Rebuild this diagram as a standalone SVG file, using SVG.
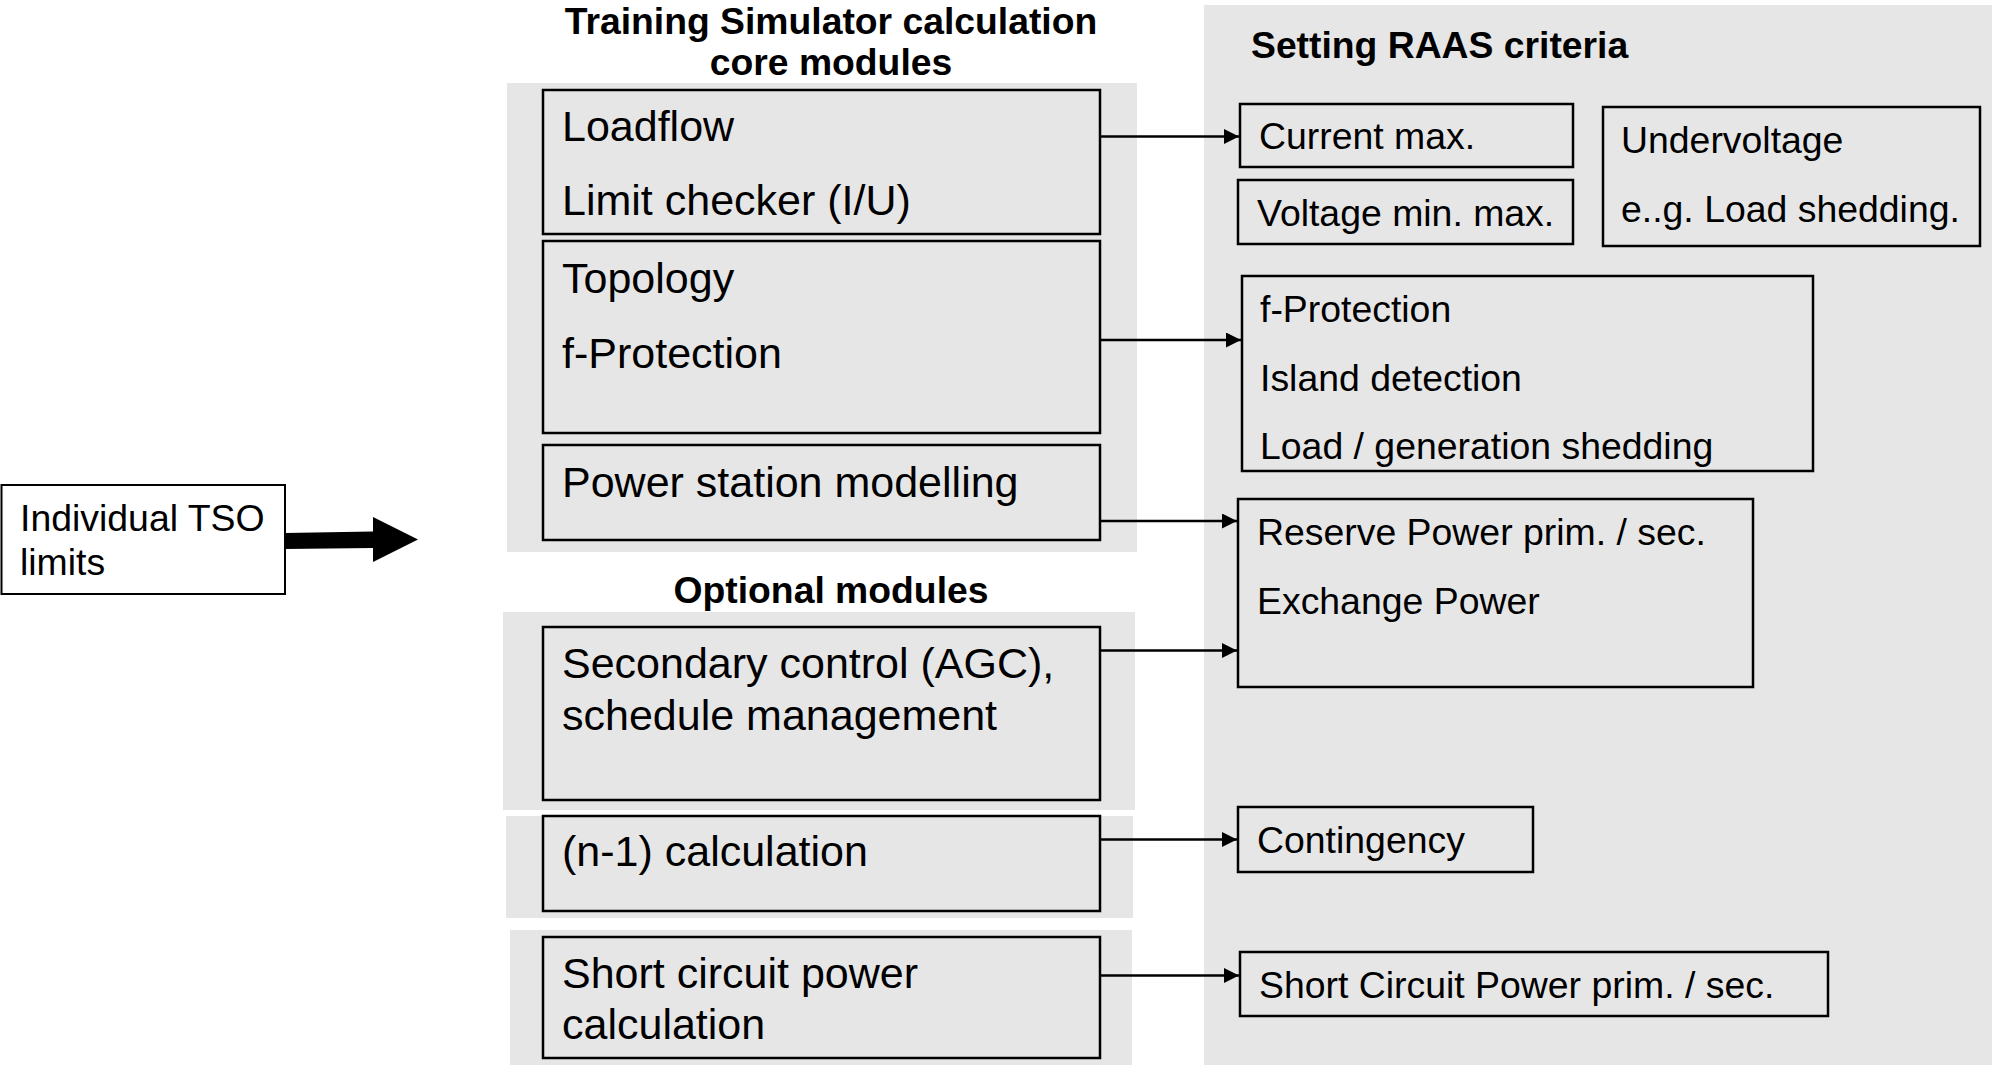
<svg xmlns="http://www.w3.org/2000/svg" width="1992" height="1065" viewBox="0 0 1992 1065">
<defs>
<style>
.panel{fill:#e6e6e6;stroke:none}
.box{fill:#e6e6e6;stroke:#000;stroke-width:2.5}
.wbox{fill:#fff;stroke:#000;stroke-width:2}
.t{font-family:"Liberation Sans",Arial,sans-serif;fill:#000}
.m{font-size:43px}
.c{font-size:37.4px}
.b{font-size:37.3px;font-weight:bold}
.conn{stroke:#000;stroke-width:2.5;fill:none}
</style>
<marker id="ah" markerUnits="userSpaceOnUse" markerWidth="16" markerHeight="16" refX="15" refY="7.5" orient="auto">
<path d="M0,0 L15,7.5 L0,15 Z" fill="#000"/>
</marker>
</defs>
<rect width="1992" height="1065" fill="#fff"/>

<g id="panels">
<rect class="panel" x="507" y="83" width="630" height="469"/>
<rect class="panel" x="503" y="612" width="632" height="198"/>
<rect class="panel" x="506" y="816" width="627" height="102"/>
<rect class="panel" x="510" y="930" width="622" height="135"/>
<rect class="panel" x="1204" y="5" width="788" height="1060"/>
</g>

<g id="titles">
<text class="t b" x="831" y="34" text-anchor="middle">Training Simulator calculation</text>
<text class="t b" x="831" y="75" text-anchor="middle">core modules</text>
<text class="t b" x="831" y="603" text-anchor="middle">Optional modules</text>
<text class="t b" x="1251" y="58">Setting RAAS criteria</text>
</g>

<g id="tso">
<rect class="wbox" x="1.5" y="485" width="283.5" height="109"/>
<text class="t c" x="20" y="531">Individual TSO</text>
<text class="t c" x="20" y="575">limits</text>
</g>

<g id="loadflow">
<rect class="box" x="543" y="90" width="557" height="144"/>
<text class="t m" x="562" y="141">Loadflow</text>
<text class="t m" x="562" y="215">Limit checker (I/U)</text>
</g>

<g id="topology">
<rect class="box" x="543" y="241" width="557" height="192"/>
<text class="t m" x="562" y="293">Topology</text>
<text class="t m" x="562" y="368">f-Protection</text>
</g>

<g id="powerstation">
<rect class="box" x="543" y="445" width="557" height="95"/>
<text class="t m" x="562" y="497">Power station modelling</text>
</g>

<g id="secondary">
<rect class="box" x="543" y="627" width="557" height="173"/>
<text class="t m" x="562" y="678">Secondary control (AGC),</text>
<text class="t m" x="562" y="730">schedule management</text>
</g>

<g id="n1">
<rect class="box" x="543" y="816" width="557" height="95"/>
<text class="t m" x="562" y="866">(n-1) calculation</text>
</g>

<g id="shortcircuit">
<rect class="box" x="543" y="937" width="557" height="121"/>
<text class="t m" x="562" y="988">Short circuit power</text>
<text class="t m" x="562" y="1039">calculation</text>
</g>

<g id="currentmax">
<rect class="box" x="1240" y="104" width="333" height="63"/>
<text class="t c" x="1259" y="149">Current max.</text>
</g>

<g id="voltage">
<rect class="box" x="1238" y="180" width="335" height="64"/>
<text class="t c" x="1257" y="226">Voltage min. max.</text>
</g>

<g id="undervoltage">
<rect class="box" x="1603" y="107" width="377" height="139"/>
<text class="t c" x="1621" y="153">Undervoltage</text>
<text class="t c" x="1621" y="222">e..g. Load shedding.</text>
</g>

<g id="fprotection">
<rect class="box" x="1242" y="276" width="571" height="195"/>
<text class="t c" x="1260" y="322">f-Protection</text>
<text class="t c" x="1260" y="391">Island detection</text>
<text class="t c" x="1260" y="459">Load / generation shedding</text>
</g>

<g id="reserve">
<rect class="box" x="1238" y="499" width="515" height="188"/>
<text class="t c" x="1257" y="545">Reserve Power prim. / sec.</text>
<text class="t c" x="1257" y="614">Exchange Power</text>
</g>

<g id="contingency">
<rect class="box" x="1238" y="807" width="295" height="65"/>
<text class="t c" x="1257" y="853">Contingency</text>
</g>

<g id="scpower">
<rect class="box" x="1240" y="952" width="588" height="64"/>
<text class="t c" x="1259" y="998">Short Circuit Power prim. / sec.</text>
</g>

<g id="connectors">
<polygon points="285,533 373,531.5 373,517 418,539.5 373,562 373,548 285,549" fill="#000"/>
<line class="conn" x1="1100" y1="136.5" x2="1239" y2="136.5" marker-end="url(#ah)"/>
<line class="conn" x1="1100" y1="340" x2="1241" y2="340" marker-end="url(#ah)"/>
<line class="conn" x1="1100" y1="521" x2="1237" y2="521" marker-end="url(#ah)"/>
<line class="conn" x1="1100" y1="650.5" x2="1237" y2="650.5" marker-end="url(#ah)"/>
<line class="conn" x1="1100" y1="839.5" x2="1237" y2="839.5" marker-end="url(#ah)"/>
<line class="conn" x1="1100" y1="975.5" x2="1239" y2="975.5" marker-end="url(#ah)"/>
</g>
</svg>
